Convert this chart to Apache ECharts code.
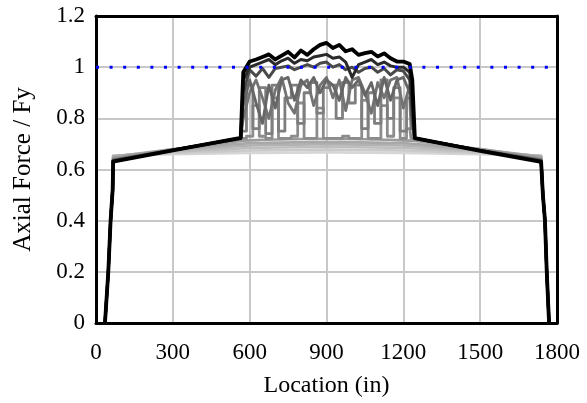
<!DOCTYPE html>
<html>
<head>
<meta charset="utf-8">
<script src="https://cdn.jsdelivr.net/npm/echarts@6/dist/echarts.min.js"></script>
<style>html,body{margin:0;padding:0;background:#fff}#c{width:587px;height:403px}</style>
</head>
<body>
<div id="c"></div>
<script>
// ---- data ----
const xTicks = [0, 300, 600, 900, 1200, 1500, 1800];
const yTicks = [0, 0.2, 0.4, 0.6, 0.8, 1, 1.2];
const xLeftRamp = [35, 48, 57, 65];
const yLeftRamp = [0, 0.2, 0.4, 0.52];
const xRightRamp = [1745, 1753, 1760, 1769];
const yRightRamp = [0.5, 0.4, 0.2, 0];

// light curves (elastic steps)
const xLight = [67, 300, 600, 900, 1200, 1500, 1738];
const L1 = [0.655, 0.660, 0.665, 0.667, 0.665, 0.660, 0.655];
const L2 = [0.654, 0.665, 0.674, 0.678, 0.674, 0.665, 0.654];
const L3 = [0.653, 0.670, 0.684, 0.689, 0.684, 0.670, 0.653];
const L4 = [0.652, 0.675, 0.694, 0.699, 0.694, 0.675, 0.652];
const L5 = [0.650, 0.680, 0.703, 0.708, 0.703, 0.680, 0.650];

// plateau curves (yielding steps)
const xPlateau = [67, 300, 565, 575, 600, 625, 650, 675, 700, 725, 750, 775, 800, 825, 850, 875,
  900, 925, 950, 975, 1000, 1025, 1050, 1075, 1100, 1125, 1150, 1175, 1200, 1225, 1235, 1245, 1500, 1738];
const G4 = [0.645, 0.678, 0.712, 0.713, 0.714, 0.715, 0.716, 0.716, 0.717, 0.717, 0.718, 0.718, 0.719, 0.719, 0.719, 0.72,
  0.72, 0.72, 0.719, 0.719, 0.719, 0.718, 0.718, 0.717, 0.717, 0.716, 0.716, 0.715, 0.714, 0.713, 0.713, 0.712, 0.68, 0.645];
const G3 = [0.640, 0.677, 0.720, 0.722, 0.73, 0.85, 0.73, 0.722, 0.88, 0.722, 0.722, 0.73, 0.86, 0.722, 0.722, 0.84,
  0.722, 0.722, 0.722, 0.73, 0.722, 0.722, 0.87, 0.722, 0.722, 0.85, 0.73, 0.88, 0.722, 0.76, 0.722, 0.72, 0.677, 0.640];
const G2 = [0.638, 0.677, 0.720, 0.75, 0.93, 0.76, 0.92, 0.74, 0.93, 0.75, 0.88, 0.93, 0.78, 0.90, 0.94, 0.82,
  0.92, 0.93, 0.80, 0.94, 0.86, 0.93, 0.76, 0.90, 0.78, 0.95, 0.80, 0.92, 0.75, 0.88, 0.76, 0.72, 0.676, 0.638];
const G2b = [0.637, 0.677, 0.721, 0.80, 0.90, 0.95, 0.88, 0.80, 0.91, 0.96, 0.86, 0.82, 0.93, 0.95, 0.85, 0.93,
  0.96, 0.88, 0.95, 0.83, 0.95, 0.96, 0.90, 0.82, 0.94, 0.88, 0.95, 0.96, 0.84, 0.93, 0.77, 0.722, 0.675, 0.637];
const G1 = [0.636, 0.676, 0.721, 0.85, 0.95, 0.86, 0.78, 0.93, 0.84, 0.95, 0.96, 0.87, 0.95, 0.92, 0.96, 0.90,
  0.95, 0.93, 0.87, 0.96, 0.92, 0.95, 0.89, 0.94, 0.85, 0.96, 0.87, 0.95, 0.96, 0.90, 0.78, 0.722, 0.675, 0.636];
const D2 = [0.634, 0.676, 0.722, 0.90, 0.99, 0.965, 0.995, 0.96, 0.995, 1.0, 1.005, 0.99, 1.0, 1.01, 1.0, 1.015,
  1.02, 1.0, 1.01, 0.99, 1.0, 0.98, 0.995, 1.0, 0.98, 0.995, 0.97, 0.99, 0.985, 0.95, 0.80, 0.722, 0.674, 0.634];
const D1 = [0.632, 0.675, 0.723, 0.95, 1.0, 1.01, 1.02, 1.03, 1.01, 1.025, 1.035, 1.015, 1.03, 1.025, 1.04, 1.045,
  1.05, 1.035, 1.04, 1.02, 0.96, 1.01, 1.02, 1.03, 1.01, 1.02, 1.005, 1.0, 1.0, 0.98, 0.85, 0.722, 0.674, 0.632];
const K = [0.631, 0.675, 0.724, 0.98, 1.022, 1.03, 1.04, 1.05, 1.03, 1.045, 1.06, 1.038, 1.065, 1.048, 1.07, 1.087,
  1.095, 1.075, 1.087, 1.062, 1.07, 1.048, 1.055, 1.06, 1.042, 1.054, 1.035, 1.022, 1.022, 1.012, 0.95, 0.723, 0.673, 0.630];
const yieldLevel = 1.0;

// ---- build ----
function pairs(xs, ys, a, b) {
  const out = [];
  for (let i = a; i < b; i++) out.push([xs[i], ys[i]]);
  return out;
}
function build(xs, ys) {
  return pairs(xLeftRamp, yLeftRamp, 0, xLeftRamp.length)
    .concat(pairs(xs, ys, 0, xs.length))
    .concat(pairs(xRightRamp, yRightRamp, 0, xRightRamp.length));
}
function lineSeries(data, color, w, step) {
  return {type: 'line', data: data, showSymbol: false, silent: true, step: step || false,
    lineStyle: {color: color, width: w, join: 'round', cap: 'round'}, z: 10};
}
const curves = [
  {xs: xLight, ys: L1, color: '#d6d6d6', w: 2.6},
  {xs: xLight, ys: L2, color: '#cacaca', w: 2.6},
  {xs: xLight, ys: L3, color: '#bebebe', w: 2.6},
  {xs: xLight, ys: L4, color: '#b2b2b2', w: 2.6},
  {xs: xLight, ys: L5, color: '#a8a8a8', w: 2.6},
  {xs: xPlateau, ys: G4, color: '#9c9c9c', w: 2.6},
  {xs: xPlateau, ys: G3, color: '#8c8c8c', w: 2.8, step: true},
  {xs: xPlateau, ys: G2, color: '#7e7e7e', w: 2.8, step: true},
  {xs: xPlateau, ys: G2b, color: '#737373', w: 2.8},
  {xs: xPlateau, ys: G1, color: '#666666', w: 2.8},
  {xs: xPlateau, ys: D2, color: '#4a4a4a', w: 3},
  {xs: xPlateau, ys: D1, color: '#2a2a2a', w: 3},
  {xs: xPlateau, ys: K, color: '#000000', w: 3.8}
];
const series = [];
curves.forEach(c => {
  if (c.step) {
    const n = c.xs.length;
    series.push(lineSeries(pairs(xLeftRamp, yLeftRamp, 0, xLeftRamp.length).concat(pairs(c.xs, c.ys, 0, 3)), c.color, c.w));
    series.push(lineSeries(pairs(c.xs, c.ys, 2, n - 2), c.color, c.w, 'middle'));
    series.push(lineSeries(pairs(c.xs, c.ys, n - 3, n).concat(pairs(xRightRamp, yRightRamp, 0, xRightRamp.length)), c.color, c.w));
  } else {
    series.push(lineSeries(build(c.xs, c.ys), c.color, c.w));
  }
});
series.push({
  type: 'line', data: [[xTicks[0], yieldLevel], [xTicks[xTicks.length - 1], yieldLevel]],
  showSymbol: false, silent: true, z: 11,
  lineStyle: {color: '#0000ff', width: 3, type: [3, 10.6], dashOffset: 0}
});

const font = 'Liberation Serif, Times New Roman, serif';
const frame = {show: true, onZero: false, lineStyle: {color: '#000', width: 3}};
const chart = echarts.init(document.getElementById('c'), null, {renderer: 'canvas'});
chart.setOption({
  animation: false,
  grid: {left: 96, right: 30, top: 16, bottom: 79},
  xAxis: [{
    type: 'value', min: xTicks[0], max: xTicks[xTicks.length - 1], interval: 300, position: 'bottom',
    name: 'Location (in)', nameLocation: 'middle', nameGap: 51,
    nameTextStyle: {fontFamily: font, fontSize: 24, color: '#000'},
    axisLine: frame, axisTick: {show: false},
    axisLabel: {fontFamily: font, fontSize: 23, color: '#000', margin: 18, formatter: v => String(v)},
    splitLine: {show: true, lineStyle: {color: '#c8c8c8', width: 2}}, z: 5
  }, {
    type: 'value', min: xTicks[0], max: xTicks[xTicks.length - 1], interval: 300, position: 'top',
    axisLine: frame, axisTick: {show: false}, axisLabel: {show: false}, splitLine: {show: false}, z: 5
  }],
  yAxis: [{
    type: 'value', min: yTicks[0], max: yTicks[yTicks.length - 1], interval: 0.2, position: 'left',
    name: 'Axial Force / Fy', nameLocation: 'middle', nameGap: 60,
    nameTextStyle: {fontFamily: font, fontSize: 25, color: '#000'},
    axisLine: frame, axisTick: {show: false},
    axisLabel: {fontFamily: font, fontSize: 23, color: '#000', margin: 11, formatter: v => String(+v.toFixed(2))},
    splitLine: {show: true, lineStyle: {color: '#c8c8c8', width: 2}}, z: 5
  }, {
    type: 'value', min: yTicks[0], max: yTicks[yTicks.length - 1], interval: 0.2, position: 'right',
    axisLine: frame, axisTick: {show: false}, axisLabel: {show: false}, splitLine: {show: false}, z: 5
  }],
  series: series
});
</script>
</body>
</html>
